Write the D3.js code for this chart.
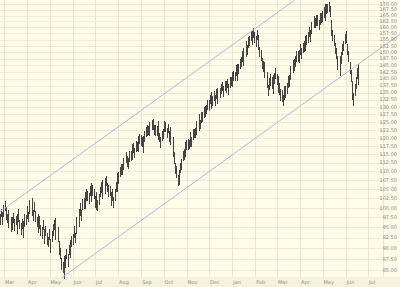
<!DOCTYPE html>
<html>
<head>
<meta charset="utf-8">
<script src="https://cdn.jsdelivr.net/npm/d3@7"></script>
<style>
  html, body { margin: 0; padding: 0; background: #fefde9; }
  svg { display: block; }
  text { font-family: "DejaVu Sans", sans-serif; }
</style>
</head>
<body>
<svg id="chart"></svg>
<script>
// daily lows / highs, one line per week, first day Mon Feb 24
var lows = [
  95.6, 97.6, 95.6, 98.2, 97.5,
  99.1, 96.9, 96.1, 94.9, 97.1,
  94.7, 93.9, 94.4, 96.2, 94.2,
  95.6, 93.4, 95.8, 96.4, 94.6,
  93.2, 94.6, 92.4, 94.4, 95.2,
  95.6, 97.2, 96.4, 98.3, 99.2,
  99.4, 97.8, 96.5, 98.9, 96.4,
  95.1, 95.4, 93.6, 94.6, 92.9,
  92.2, 94.4, 91.7, 91.1, 93.0,
  90.7, 90.2, 91.9, 89.6, 88.9,
  91.5, 92.9, 94.4, 92.0, 94.7,
  92.1, 91.5, 88.4, 87.6, 85.0,
  84.4, 83.0, 85.5, 85.5, 87.4,
  85.8, 88.4, 88.9, 87.7, 90.2,
  90.7, 92.4, 91.2, 93.4, 94.8,
  95.1, 97.0, 98.0, 96.6, 99.3,
  99.8, 101.0, 99.6, 101.9, 101.7,
  100.9, 103.1, 103.4, 101.6, 103.1,
  102.2, 100.0, 99.5, 101.3, 99.2,
  100.7, 102.9, 103.8, 102.4, 104.4,
  105.0, 103.6, 105.7, 104.1, 102.8,
  103.0, 101.1, 100.5, 101.9, 100.0,
  101.9, 104.3, 104.3, 106.6, 106.5,
  108.4, 108.8, 109.0, 110.3, 110.4,
  112.3, 112.6, 111.1, 110.7, 112.7,
  112.9, 114.6, 113.3, 115.2, 113.7,
  115.7, 116.0, 117.3, 115.6, 118.0,
  117.5, 117.2, 115.2, 117.8, 118.8,
  120.3, 120.5, 120.8, 121.9, 120.5,
  122.5, 122.8, 122.6, 120.9, 120.7,
  120.4, 122.5, 119.2, 118.8, 116.9,
  119.1, 119.5, 121.7, 121.8, 121.9,
  119.8, 121.5, 118.8, 120.5, 117.7,
  116.9, 114.1, 112.1, 109.2, 108.1,
  105.8, 106.0, 106.8, 109.5, 110.2,
  112.9, 113.2, 115.8, 114.1, 116.3,
  116.3, 116.6, 117.1, 118.9, 117.1,
  119.3, 119.9, 119.9, 120.9, 122.0,
  122.2, 124.1, 122.7, 124.7, 125.0,
  126.5, 126.9, 126.7, 127.7, 129.0,
  128.8, 131.0, 129.4, 131.5, 130.3,
  132.2, 130.4, 132.9, 131.1, 133.3,
  133.0, 133.1, 134.4, 135.5, 133.6,
  135.6, 135.3, 135.0, 136.6, 134.3,
  136.7, 137.3, 138.9, 136.8, 139.2,
  139.0, 140.9, 139.3, 141.9, 141.6,
  143.5, 144.3, 146.2, 144.8, 147.6,
  148.1, 150.6, 148.9, 151.6, 152.4,
  154.3, 154.2, 152.9, 155.7, 153.6,
  152.0, 154.9, 152.6, 151.0, 148.0,
  146.5, 143.6, 142.3, 140.2, 142.1,
  138.6, 136.6, 133.8, 135.9, 137.5,
  136.4, 134.5, 137.0, 138.1, 139.7,
  137.8, 136.9, 134.9, 134.0, 132.2,
  131.7, 130.2, 132.3, 133.3, 133.1,
  134.5, 136.5, 137.1, 139.6, 140.2,
  142.2, 143.0, 142.8, 144.2, 146.3,
  146.0, 145.8, 146.9, 148.7, 147.3,
  149.5, 150.0, 152.3, 150.3, 152.8,
  153.6, 155.9, 154.1, 157.1, 157.9,
  159.6, 160.2, 159.9, 160.7, 160.7,
  158.7, 161.0, 161.6, 161.8, 162.4,
  164.1, 162.6, 165.5, 165.7, 165.9,
  166.4, 164.5, 158.6, 156.6, 154.3,
  152.3, 149.2, 147.3, 144.0, 143.1,
  141.0, 144.1, 145.5, 148.8, 150.4,
  153.1, 153.8, 153.4, 148.8, 146.0,
  141.6, 138.9, 134.6, 132.4, 130.5,
  133.7, 136.3, 140.0, 137.6, 141.1
];
var highs = [
  98.4, 99.6, 98.8, 100.6, 100.5,
  101.7, 100.3, 98.3, 97.9, 99.5,
  97.7, 96.1, 97.6, 98.6, 97.0,
  98.0, 96.4, 98.4, 99.6, 96.8,
  96.0, 97.0, 95.4, 96.6, 98.4,
  98.2, 100.4, 98.8, 101.3, 102.0,
  102.6, 100.2, 99.5, 101.5, 99.2,
  97.7, 98.4, 96.0, 97.8, 95.5,
  95.0, 96.8, 94.7, 93.7, 95.4,
  93.7, 92.6, 94.7, 92.2, 91.9,
  94.1, 95.9, 96.8, 95.2, 97.3,
  95.1, 94.1, 91.6, 90.0, 87.8,
  86.8, 85.8, 88.1, 88.5, 89.8,
  88.6, 90.8, 91.9, 90.3, 93.0,
  93.3, 95.4, 93.6, 96.6, 97.6,
  98.1, 99.6, 101.2, 99.4, 102.3,
  102.6, 104.2, 102.2, 104.9, 104.5,
  103.9, 105.7, 106.6, 104.4, 106.1,
  105.0, 103.2, 102.1, 104.3, 102.0,
  103.7, 105.5, 107.0, 105.2, 107.4,
  108.2, 106.4, 108.7, 106.7, 106.0,
  105.8, 104.3, 103.1, 104.9, 102.8,
  104.9, 106.9, 107.5, 109.4, 109.9,
  111.2, 112.0, 112.0, 113.7, 113.2,
  115.5, 115.4, 114.5, 113.7, 115.9,
  115.9, 118.0, 116.1, 118.4, 116.7,
  118.9, 118.8, 120.7, 118.6, 121.2,
  120.9, 120.2, 118.4, 120.6, 122.2,
  123.3, 123.9, 123.6, 125.1, 123.5,
  125.7, 125.6, 126.0, 123.9, 123.9,
  123.8, 125.5, 122.4, 121.6, 120.3,
  122.1, 122.7, 124.5, 125.2, 124.9,
  123.0, 124.3, 122.2, 123.5, 120.9,
  120.3, 117.1, 115.7, 112.4, 111.5,
  109.0, 108.8, 110.2, 112.5, 113.4,
  115.9, 116.6, 118.6, 117.3, 119.3,
  119.5, 119.4, 120.5, 121.9, 120.3,
  122.7, 122.9, 123.1, 123.7, 125.4,
  125.4, 127.5, 125.7, 128.3, 128.2,
  129.9, 130.1, 130.3, 130.7, 132.4,
  132.4, 134.2, 132.8, 135.3, 133.7,
  135.6, 134.2, 136.1, 134.7, 136.7,
  136.6, 136.5, 138.2, 138.7, 137.2,
  139.0, 139.1, 138.6, 140.0, 138.1,
  140.5, 140.7, 142.5, 140.6, 142.8,
  142.6, 144.9, 143.1, 145.5, 145.6,
  147.5, 148.1, 150.4, 148.4, 151.6,
  152.3, 154.4, 152.9, 156.0, 156.4,
  158.3, 158.6, 157.1, 159.7, 158.0,
  156.4, 158.9, 156.8, 155.4, 152.0,
  150.7, 147.6, 146.7, 144.2, 146.3,
  142.6, 141.0, 137.8, 140.1, 141.5,
  140.6, 138.5, 141.4, 142.1, 143.9,
  141.8, 141.1, 138.9, 138.4, 136.2,
  135.9, 134.2, 136.7, 137.3, 137.3,
  138.5, 140.9, 141.3, 143.6, 144.6,
  146.4, 147.0, 147.2, 148.4, 150.3,
  150.4, 150.0, 150.9, 153.1, 151.5,
  153.7, 154.4, 156.3, 154.9, 157.0,
  158.0, 160.1, 158.7, 161.5, 162.1,
  164.2, 164.6, 164.1, 165.3, 165.1,
  163.1, 165.6, 166.0, 166.0, 167.0,
  168.7, 167.0, 170.1, 170.1, 170.1,
  170.8, 169.1, 163.0, 161.4, 158.7,
  156.9, 153.6, 151.5, 148.6, 147.5,
  145.4, 148.3, 150.1, 153.2, 154.6,
  157.3, 158.4, 157.8, 153.2, 150.6,
  146.0, 143.1, 139.2, 136.8, 134.7,
  137.9, 140.7, 144.0, 142.0, 145.3
];

// price axis labels
var priceTicks = d3.range(85, 170.01, 2.5);

// two parallel channel lines: [start date, start price, end date, end price]
var channels = [
  [new Date(2003, 1, 23), 98.9, new Date(2004, 2, 25), 171.8],
  [new Date(2003, 4, 17), 83.3, new Date(2004, 7, 13), 157.2]
];

var width = 400, height = 287;
var plotRight = 383, plotBottom = 277;

var svg = d3.select("#chart").attr("width", width).attr("height", height);

var x = d3.scaleTime()
  .domain([new Date(2003, 2, 1), new Date(2004, 6, 1)])
  .range([4, 368]);

var y = d3.scaleLog()
  .domain([83.5, 171.8])
  .range([plotBottom, 0]);

// trading days (weekdays) starting Feb 24
var days = d3.timeDay.range(new Date(2003, 1, 24), new Date(2004, 7, 1))
  .filter(function (d) { return d.getDay() > 0 && d.getDay() < 6; })
  .slice(0, lows.length);

var data = days.map(function (d, i) {
  return { date: d, low: lows[i], high: highs[i] };
});

// background panels
svg.append("rect").attr("width", width).attr("height", height).attr("fill", "#fefde9");
svg.append("rect")
  .attr("x", 0).attr("y", plotBottom)
  .attr("width", width).attr("height", height - plotBottom)
  .attr("fill", "#f4f2df");

// grid
var months = d3.timeMonth.range(new Date(2003, 2, 1), new Date(2004, 7, 1));

svg.append("g")
  .selectAll("line")
  .data(priceTicks)
  .join("line")
  .attr("x1", 0).attr("x2", plotRight)
  .attr("y1", function (d) { return Math.round(y(d)) + 0.5; })
  .attr("y2", function (d) { return Math.round(y(d)) + 0.5; })
  .attr("stroke", "#efebd6");

svg.append("g")
  .selectAll("line")
  .data(months)
  .join("line")
  .attr("x1", function (d) { return Math.round(x(d)) + 0.5; })
  .attr("x2", function (d) { return Math.round(x(d)) + 0.5; })
  .attr("y1", 0).attr("y2", plotBottom)
  .attr("stroke", "#ebe6cf");

svg.append("line")
  .attr("x1", plotRight + 0.5).attr("x2", plotRight + 0.5)
  .attr("y1", 0).attr("y2", plotBottom)
  .attr("stroke", "#ebe6cf");

// bars
svg.append("g")
  .attr("stroke", "#444")
  .attr("shape-rendering", "crispEdges")
  .selectAll("line")
  .data(data)
  .join("line")
  .attr("x1", function (d) { return Math.round(x(d.date)) + 0.5; })
  .attr("x2", function (d) { return Math.round(x(d.date)) + 0.5; })
  .attr("y1", function (d) { return y(d.high); })
  .attr("y2", function (d) { return y(d.low); });

// channel lines
svg.append("g")
  .selectAll("line")
  .data(channels)
  .join("line")
  .attr("x1", function (d) { return x(d[0]); })
  .attr("y1", function (d) { return y(d[1]); })
  .attr("x2", function (d) { return x(d[2]); })
  .attr("y2", function (d) { return y(d[3]); })
  .attr("stroke", "#b4b8dc")
  .attr("stroke-width", 1);

// right axis labels
svg.append("g")
  .selectAll("text")
  .data(priceTicks)
  .join("text")
  .attr("x", 397)
  .attr("y", function (d) { return y(d); })
  .attr("dy", "0.35em")
  .attr("text-anchor", "end")
  .attr("font-size", 5)
  .attr("fill", "#8a8a80")
  .text(function (d) { return d.toFixed(2); });

// month labels
svg.append("g")
  .selectAll("text")
  .data(months)
  .join("text")
  .attr("x", function (d) { return x(d) + 1; })
  .attr("y", 284)
  .attr("font-size", 5)
  .attr("fill", "#8a8a80")
  .text(d3.timeFormat("%b"));
</script>
</body>
</html>
